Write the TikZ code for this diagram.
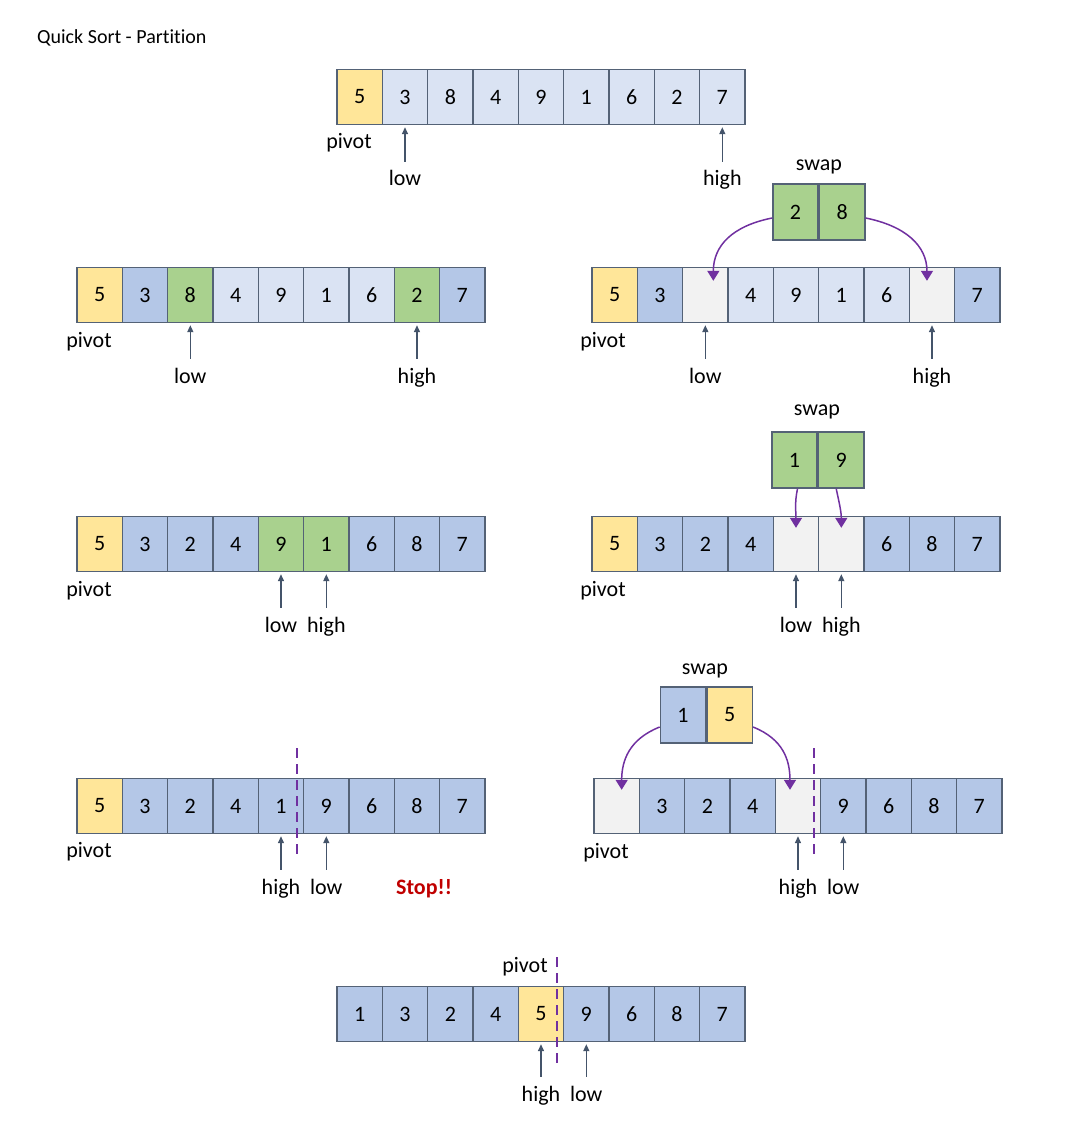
\documentclass[tikz,border=0pt]{standalone}
\usepackage{fontspec}
\setmainfont{Carlito}[Ligatures=NoCommon]
\usetikzlibrary{arrows.meta, calc, positioning}
\definecolor{pivotyellow}{RGB}{255,230,153}
\definecolor{litblue}{RGB}{218,227,243}
\definecolor{darkblue}{RGB}{180,199,231}
\definecolor{swapgreen}{RGB}{169,209,142}
\definecolor{emptygray}{RGB}{242,242,242}
\definecolor{cellline}{RGB}{84,98,118}
\definecolor{pointergray}{RGB}{68,84,106}
\definecolor{swappurple}{RGB}{112,48,160}
\definecolor{stopred}{RGB}{192,0,0}
\tikzset{
    cell/.style={rectangle, draw=cellline, line width=1.4pt, minimum width=45.3pt, minimum height=55pt, inner sep=0pt, font=\fontsize{22}{26}\selectfont},
    tag/.style={anchor=base, inner sep=0pt, font=\fontsize{22}{26}\selectfont},
    pointer/.style={-{Triangle[length=7pt, width=6pt]}, pointergray, line width=1.4pt, shorten <=9pt, shorten >=2pt},
    swaparrow/.style={-{Triangle[length=10pt, width=12pt]}, swappurple, line width=1.5pt},
    cutline/.style={swappurple, line width=2.5pt, dash pattern=on 10pt off 6pt},
}

\begin{document}
\begin{tikzpicture}[x=1pt, y=-1pt]
    \useasboundingbox (0,0) rectangle (1080,1147);
    \node[anchor=base west, inner sep=0pt, font=\fontsize{20}{24}\selectfont] (title) at (37,44) {Quick Sort - Partition};

    % start
    \foreach \v/\c [count=\i] in {5/pivotyellow,3/litblue,8/litblue,4/litblue,9/litblue,1/litblue,6/litblue,2/litblue,7/litblue}
        \node[cell, fill=\c] (a\i) at ({337+45.33*\i-22.67},97) {\v};
    \node[tag] (apivot) at (349,149) {pivot};
    \node[tag] (alow) at (a2 |- 0,186) {low};
    \node[tag] (ahigh) at (a9 |- 0,186) {high};
    \draw[pointer] (alow.north) -- (alow.north |- a2.south);
    \draw[pointer] (ahigh.north) -- (ahigh.north |- a9.south);

    % first stop of low and high
    \foreach \v/\c [count=\i] in {5/pivotyellow,3/darkblue,8/swapgreen,4/litblue,9/litblue,1/litblue,6/litblue,2/swapgreen,7/darkblue}
        \node[cell, fill=\c] (b\i) at ({77+45.33*\i-22.67},295) {\v};
    \node[tag] (bpivot) at (89,347) {pivot};
    \node[tag] (blow) at (b3 |- 0,383) {low};
    \node[tag] (bhigh) at (b8 |- 0,383) {high};
    \draw[pointer] (blow.north) -- (blow.north |- b3.south);
    \draw[pointer] (bhigh.north) -- (bhigh.north |- b8.south);

    % first swap
    \foreach \v/\c [count=\i] in {5/pivotyellow,3/darkblue,{}/emptygray,4/litblue,9/litblue,1/litblue,6/litblue,{}/emptygray,7/darkblue}
        \node[cell, fill=\c] (c\i) at ({592+45.33*\i-22.67},295) {\v};
    \node[cell, fill=swapgreen, minimum height=56pt] (cs1) at (795.5,212) {2};
    \node[cell, fill=swapgreen, minimum height=56pt, right=0pt of cs1] (cs2) {8};
    \node[tag] (cswap) at (819,171) {swap};
    \node[tag] (cpivot) at (603,347) {pivot};
    \node[tag] (clow) at (c3 |- 0,383) {low};
    \node[tag] (chigh) at (c8 |- 0,383) {high};
    \draw[pointer] (clow.north) -- (clow.north |- c3.south);
    \draw[pointer] (chigh.north) -- (chigh.north |- c8.south);
    \draw[swaparrow] ([yshift=-6pt]cs1.west) .. controls +(-40,8) and +(0,-35) .. ($(c3.north)+(8,14)$);
    \draw[swaparrow] ([yshift=-6pt]cs2.east) .. controls +(40,8) and +(0,-35) .. ($(c8.north)+(-5,14)$);

    % second stop of low and high
    \foreach \v/\c [count=\i] in {5/pivotyellow,3/darkblue,2/darkblue,4/darkblue,9/swapgreen,1/swapgreen,6/darkblue,8/darkblue,7/darkblue}
        \node[cell, fill=\c] (d\i) at ({77+45.33*\i-22.67},544) {\v};
    \node[tag] (dpivot) at (89,596) {pivot};
    \node[tag] (dlow) at (d5 |- 0,632) {low};
    \node[tag] (dhigh) at (d6 |- 0,632) {high};
    \draw[pointer] (dlow.north) -- (dlow.north |- d5.south);
    \draw[pointer] (dhigh.north) -- (dhigh.north |- d6.south);

    % second swap
    \foreach \v/\c [count=\i] in {5/pivotyellow,3/darkblue,2/darkblue,4/darkblue,{}/emptygray,{}/emptygray,6/darkblue,8/darkblue,7/darkblue}
        \node[cell, fill=\c] (e\i) at ({592+45.33*\i-22.67},544) {\v};
    \node[cell, fill=swapgreen, minimum height=56pt] (es1) at (794.5,460) {1};
    \node[cell, fill=swapgreen, minimum height=56pt, right=0pt of es1] (es2) {9};
    \node[tag] (eswap) at (817,415) {swap};
    \node[tag] (epivot) at (603,596) {pivot};
    \node[tag] (elow) at (e5 |- 0,632) {low};
    \node[tag] (ehigh) at (e6 |- 0,632) {high};
    \draw[pointer] (elow.north) -- (elow.north |- e5.south);
    \draw[pointer] (ehigh.north) -- (ehigh.north |- e6.south);
    \draw[swaparrow] ($(es1.south)+(3,0)$) .. controls +(-3,14) and +(0,-16) .. ($(e5.north)+(0,12)$);
    \draw[swaparrow] ($(es2.south)+(-5,0)$) .. controls +(3,14) and +(0,-16) .. ($(e6.north)+(0,12)$);

    % low and high crossed
    \foreach \v/\c [count=\i] in {5/pivotyellow,3/darkblue,2/darkblue,4/darkblue,1/darkblue,9/darkblue,6/darkblue,8/darkblue,7/darkblue}
        \node[cell, fill=\c] (f\i) at ({77+45.33*\i-22.67},806) {\v};
    \coordinate (fcut1) at (297,748);
    \coordinate (fcut2) at (297,855);
    \draw[cutline] (fcut1) -- (fcut2);
    \node[tag] (fpivot) at (89,857) {pivot};
    \node[tag] (fhigh) at (f5 |- 0,894) {high};
    \node[tag] (flow) at (f6 |- 0,894) {low};
    \node[tag, font=\fontsize{22}{26}\selectfont\bfseries, text=stopred] (fstop) at (424,894) {Stop!!};
    \draw[pointer] (fhigh.north) -- (fhigh.north |- f5.south);
    \draw[pointer] (flow.north) -- (flow.north |- f6.south);

    % swap pivot and high
    \foreach \v/\c [count=\i] in {{}/emptygray,3/darkblue,2/darkblue,4/darkblue,{}/emptygray,9/darkblue,6/darkblue,8/darkblue,7/darkblue}
        \node[cell, fill=\c] (g\i) at ({594+45.33*\i-22.67},806) {\v};
    \node[cell, fill=darkblue, minimum height=56pt] (gs1) at (683,715) {1};
    \node[cell, fill=pivotyellow, minimum height=56pt, right=0pt of gs1] (gs2) {5};
    \node[tag] (gswap) at (705,674) {swap};
    \coordinate (gcut1) at (814,748);
    \coordinate (gcut2) at (814,855);
    \draw[cutline] (gcut1) -- (gcut2);
    \node[tag] (gpivot) at (606,858) {pivot};
    \node[tag] (ghigh) at (g5 |- 0,894) {high};
    \node[tag] (glow) at (g6 |- 0,894) {low};
    \draw[pointer] (ghigh.north) -- (ghigh.north |- g5.south);
    \draw[pointer] (glow.north) -- (glow.north |- g6.south);
    \draw[swaparrow] ([yshift=-12pt]gs1.west) .. controls +(-30,12) and +(0,-30) .. ($(g1.north)+(5,12)$);
    \draw[swaparrow] ([yshift=-12pt]gs2.east) .. controls +(30,12) and +(0,-30) .. ($(g5.north)+(-8,12)$);

    % result
    \foreach \v/\c [count=\i] in {1/darkblue,3/darkblue,2/darkblue,4/darkblue,5/pivotyellow,9/darkblue,6/darkblue,8/darkblue,7/darkblue}
        \node[cell, fill=\c] (h\i) at ({337+45.33*\i-22.67},1014) {\v};
    \coordinate (hcut1) at (557,957);
    \coordinate (hcut2) at (557,1066);
    \draw[cutline] (hcut1) -- (hcut2);
    \node[tag] (hpivot) at (525,972) {pivot};
    \node[tag] (hhigh) at (h5 |- 0,1101) {high};
    \node[tag] (hlow) at (h6 |- 0,1101) {low};
    \draw[pointer] (hhigh.north) -- (hhigh.north |- h5.south);
    \draw[pointer] (hlow.north) -- (hlow.north |- h6.south);
\end{tikzpicture}
\end{document}
